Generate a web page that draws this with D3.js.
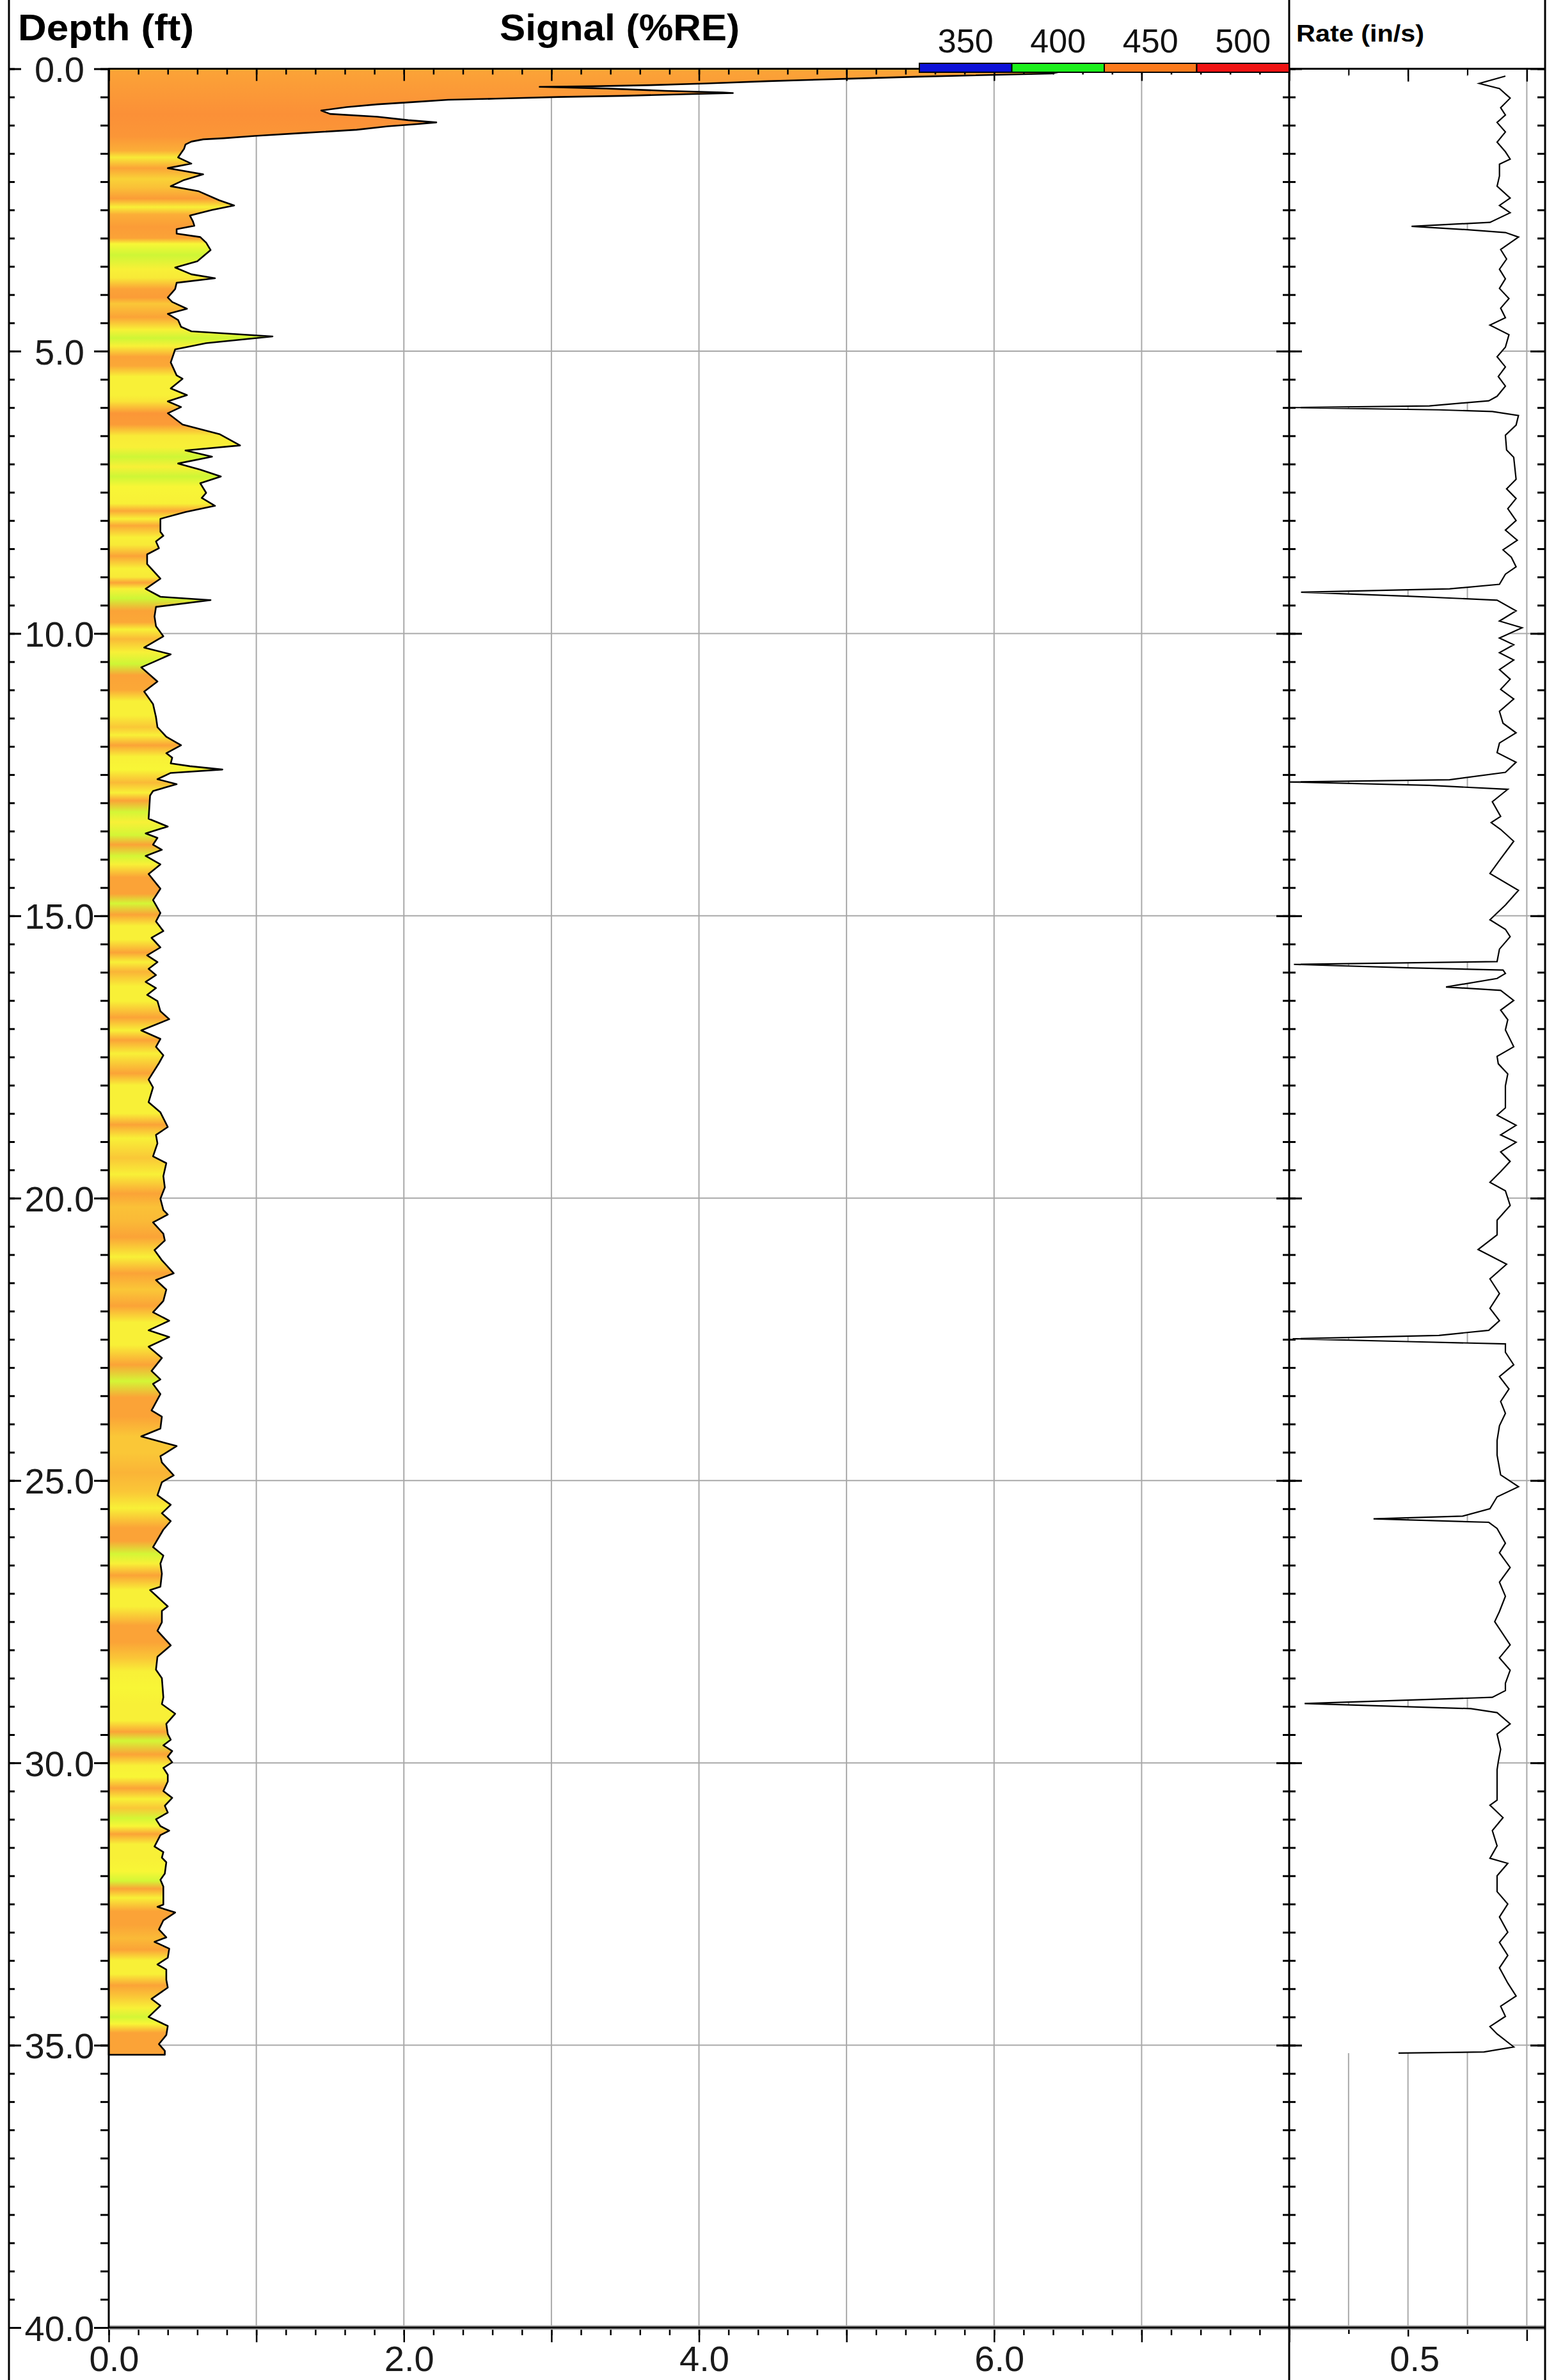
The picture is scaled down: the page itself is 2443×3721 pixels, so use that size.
<!DOCTYPE html>
<html>
<head>
<meta charset="utf-8">
<script src="https://cdn.jsdelivr.net/npm/d3@7"></script>
<style>
  body { margin: 0; background: #fff; }
  svg { display: block; font-family: "Liberation Sans", Arial, sans-serif; }
</style>
</head>
<body>
<div id="chart"></div>
<script>
// signal profile: [depth (ft), signal (%RE)]
const signalPoints = [
  [0.00, 6.60], [0.05, 6.45], [0.085, 6.39], [0.14, 5.49], [0.18, 4.97], [0.22, 4.47], [0.26, 4.05],
  [0.29, 3.67], [0.31, 3.28], [0.32, 2.92], [0.35, 3.37], [0.39, 3.77], [0.42, 4.16], [0.43, 4.23],
  [0.45, 3.91], [0.48, 3.48], [0.50, 3.05], [0.53, 2.62], [0.55, 2.30], [0.59, 2.06], [0.63, 1.82],
  [0.68, 1.61], [0.74, 1.44], [0.80, 1.50], [0.85, 1.82], [0.91, 2.03], [0.95, 2.22], [0.98, 2.09],
  [1.02, 1.89], [1.08, 1.68], [1.14, 1.30], [1.19, 0.99], [1.23, 0.78], [1.25, 0.64], [1.29, 0.56],
  [1.34, 0.52], [1.42, 0.51], [1.57, 0.47], [1.68, 0.56], [1.76, 0.40], [1.80, 0.49], [1.87, 0.64],
  [1.97, 0.51], [2.08, 0.42], [2.17, 0.61], [2.33, 0.75], [2.42, 0.85], [2.50, 0.70], [2.60, 0.55],
  [2.70, 0.57], [2.78, 0.58], [2.84, 0.46], [2.92, 0.46], [2.98, 0.62], [3.08, 0.66], [3.21, 0.69],
  [3.41, 0.60], [3.52, 0.45], [3.64, 0.56], [3.71, 0.72], [3.79, 0.46], [3.90, 0.45], [4.05, 0.40],
  [4.13, 0.43], [4.25, 0.53], [4.34, 0.40], [4.45, 0.47], [4.57, 0.49], [4.65, 0.56], [4.74, 1.11],
  [4.86, 0.66], [4.97, 0.45], [5.20, 0.42], [5.43, 0.46], [5.49, 0.50], [5.66, 0.42], [5.78, 0.53],
  [5.89, 0.40], [5.99, 0.49], [6.10, 0.40], [6.30, 0.50], [6.47, 0.75], [6.67, 0.89], [6.76, 0.52],
  [6.87, 0.70], [6.99, 0.47], [7.10, 0.62], [7.22, 0.76], [7.34, 0.62], [7.51, 0.66], [7.60, 0.63],
  [7.74, 0.72], [7.85, 0.52], [7.97, 0.35], [8.20, 0.35], [8.27, 0.37], [8.37, 0.32], [8.49, 0.34],
  [8.60, 0.26], [8.77, 0.26], [9.03, 0.35], [9.21, 0.25], [9.35, 0.35], [9.41, 0.69], [9.53, 0.32],
  [9.70, 0.31], [9.87, 0.32], [10.05, 0.37], [10.25, 0.24], [10.37, 0.42], [10.51, 0.30], [10.60, 0.22],
  [10.85, 0.33], [11.03, 0.24], [11.25, 0.30], [11.48, 0.32], [11.66, 0.33], [11.83, 0.39], [11.98, 0.49],
  [12.12, 0.39], [12.20, 0.43], [12.30, 0.42], [12.35, 0.55], [12.41, 0.77], [12.47, 0.42], [12.58, 0.33],
  [12.67, 0.46], [12.79, 0.30], [12.87, 0.28], [13.28, 0.27], [13.42, 0.40], [13.54, 0.25], [13.62, 0.33],
  [13.74, 0.30], [13.83, 0.36], [13.94, 0.25], [14.09, 0.35], [14.26, 0.27], [14.52, 0.35], [14.72, 0.30],
  [14.95, 0.35], [15.10, 0.32], [15.27, 0.37], [15.39, 0.29], [15.56, 0.35], [15.70, 0.26], [15.82, 0.33],
  [15.94, 0.27], [16.05, 0.32], [16.17, 0.25], [16.28, 0.32], [16.40, 0.26], [16.51, 0.33], [16.69, 0.35],
  [16.83, 0.41], [17.03, 0.22], [17.18, 0.35], [17.32, 0.32], [17.47, 0.37], [17.61, 0.34], [17.90, 0.27],
  [18.04, 0.30], [18.30, 0.27], [18.48, 0.35], [18.74, 0.40], [18.88, 0.32], [19.03, 0.33], [19.26, 0.30],
  [19.38, 0.39], [19.61, 0.37], [19.81, 0.38], [20.01, 0.35], [20.21, 0.37], [20.29, 0.40], [20.43, 0.30],
  [20.63, 0.37], [20.75, 0.38], [20.92, 0.31], [21.10, 0.36], [21.33, 0.44], [21.45, 0.32], [21.62, 0.39],
  [21.82, 0.37], [22.02, 0.30], [22.17, 0.41], [22.34, 0.27], [22.46, 0.41], [22.63, 0.27], [22.83, 0.36],
  [23.06, 0.29], [23.21, 0.35], [23.29, 0.30], [23.47, 0.35], [23.76, 0.29], [23.87, 0.36], [24.08, 0.35],
  [24.22, 0.22], [24.39, 0.46], [24.57, 0.35], [24.68, 0.36], [24.91, 0.44], [25.03, 0.36], [25.26, 0.33],
  [25.43, 0.42], [25.58, 0.36], [25.72, 0.42], [25.87, 0.37], [26.18, 0.30], [26.33, 0.37], [26.47, 0.35],
  [26.65, 0.36], [26.88, 0.35], [26.94, 0.28], [27.23, 0.40], [27.31, 0.36], [27.51, 0.36], [27.66, 0.33],
  [27.92, 0.42], [28.12, 0.33], [28.35, 0.32], [28.50, 0.36], [28.84, 0.37], [28.96, 0.36], [29.13, 0.45],
  [29.31, 0.39], [29.49, 0.40], [29.59, 0.42], [29.69, 0.37], [29.79, 0.43], [29.89, 0.40], [29.99, 0.43],
  [30.09, 0.37], [30.21, 0.40], [30.33, 0.40], [30.50, 0.37], [30.62, 0.43], [30.76, 0.38], [30.88, 0.40],
  [31.00, 0.32], [31.12, 0.35], [31.20, 0.41], [31.28, 0.35], [31.48, 0.31], [31.58, 0.37], [31.68, 0.36],
  [31.76, 0.39], [31.96, 0.38], [32.07, 0.35], [32.19, 0.37], [32.51, 0.37], [32.55, 0.33], [32.65, 0.45],
  [32.79, 0.37], [32.95, 0.34], [33.09, 0.39], [33.17, 0.31], [33.29, 0.41], [33.45, 0.40], [33.57, 0.33],
  [33.66, 0.39], [33.84, 0.39], [33.98, 0.40], [34.18, 0.29], [34.30, 0.35], [34.50, 0.27], [34.56, 0.32],
  [34.66, 0.40], [34.82, 0.39], [34.98, 0.34], [35.10, 0.38], [35.17, 0.38]
];

// rate profile: [depth (ft), rate (in/s)]
const ratePoints = [
  [0.13, 0.582], [0.26, 0.560], [0.35, 0.577], [0.52, 0.586], [0.69, 0.578], [0.82, 0.582], [0.95, 0.575],
  [1.12, 0.582], [1.30, 0.575], [1.47, 0.582], [1.60, 0.586], [1.69, 0.577], [1.90, 0.577], [2.08, 0.575],
  [2.29, 0.586], [2.42, 0.577], [2.55, 0.586], [2.72, 0.569], [2.79, 0.503], [2.85, 0.550], [2.90, 0.582],
  [2.98, 0.593], [3.20, 0.578], [3.37, 0.583], [3.55, 0.577], [3.72, 0.582], [3.89, 0.577], [4.07, 0.585],
  [4.24, 0.578], [4.41, 0.582], [4.54, 0.569], [4.71, 0.585], [4.93, 0.582], [5.10, 0.575], [5.28, 0.582],
  [5.45, 0.576], [5.62, 0.582], [5.80, 0.575], [5.88, 0.568], [5.97, 0.518], [6.00, 0.400], [6.04, 0.526],
  [6.07, 0.571], [6.14, 0.593], [6.31, 0.591], [6.49, 0.582], [6.75, 0.583], [6.88, 0.589], [7.27, 0.591],
  [7.44, 0.583], [7.61, 0.591], [7.79, 0.584], [8.00, 0.591], [8.17, 0.582], [8.35, 0.592], [8.52, 0.580],
  [8.65, 0.587], [8.82, 0.591], [8.95, 0.582], [9.13, 0.577], [9.21, 0.535], [9.27, 0.410], [9.34, 0.500],
  [9.41, 0.575], [9.60, 0.591], [9.78, 0.577], [9.90, 0.596], [10.08, 0.577], [10.20, 0.589], [10.34, 0.577],
  [10.47, 0.589], [10.64, 0.577], [10.81, 0.586], [10.99, 0.578], [11.16, 0.589], [11.38, 0.577], [11.59, 0.580],
  [11.76, 0.591], [11.94, 0.577], [12.11, 0.575], [12.28, 0.591], [12.46, 0.582], [12.59, 0.535], [12.63, 0.400],
  [12.69, 0.518], [12.76, 0.584], [12.98, 0.571], [13.24, 0.578], [13.35, 0.570], [13.47, 0.578], [13.68, 0.589],
  [13.99, 0.578], [14.25, 0.569], [14.55, 0.593], [14.81, 0.582], [15.07, 0.569], [15.24, 0.582], [15.37, 0.586],
  [15.59, 0.577], [15.81, 0.575], [15.86, 0.404], [15.92, 0.500], [15.96, 0.580], [16.02, 0.582], [16.11, 0.575],
  [16.26, 0.532], [16.32, 0.578], [16.50, 0.589], [16.67, 0.578], [16.84, 0.584], [17.02, 0.582], [17.32, 0.589],
  [17.49, 0.575], [17.62, 0.576], [17.80, 0.584], [18.01, 0.582], [18.23, 0.582], [18.40, 0.582], [18.53, 0.575],
  [18.71, 0.591], [18.88, 0.578], [19.01, 0.591], [19.18, 0.578], [19.35, 0.586], [19.53, 0.578], [19.72, 0.569],
  [19.87, 0.582], [20.13, 0.586], [20.39, 0.575], [20.65, 0.575], [20.91, 0.559], [21.17, 0.583], [21.43, 0.569],
  [21.69, 0.577], [21.95, 0.569], [22.17, 0.577], [22.34, 0.568], [22.43, 0.526], [22.49, 0.403], [22.54, 0.500],
  [22.58, 0.582], [22.73, 0.582], [22.95, 0.589], [23.16, 0.577], [23.38, 0.585], [23.60, 0.578], [23.81, 0.582],
  [24.03, 0.577], [24.29, 0.575], [24.55, 0.575], [24.90, 0.578], [25.11, 0.593], [25.29, 0.575], [25.50, 0.569],
  [25.63, 0.546], [25.68, 0.471], [25.74, 0.568], [25.85, 0.575], [26.11, 0.582], [26.28, 0.577], [26.54, 0.586],
  [26.80, 0.577], [27.05, 0.582], [27.32, 0.577], [27.50, 0.573], [27.91, 0.586], [28.14, 0.577], [28.36, 0.586],
  [28.59, 0.582], [28.72, 0.582], [28.84, 0.571], [28.95, 0.413], [29.04, 0.553], [29.11, 0.575], [29.31, 0.586],
  [29.49, 0.575], [29.76, 0.578], [29.98, 0.576], [30.12, 0.575], [30.66, 0.575], [30.75, 0.569], [30.97, 0.580],
  [31.20, 0.571], [31.47, 0.575], [31.69, 0.569], [31.78, 0.584], [32.00, 0.575], [32.28, 0.575], [32.50, 0.584],
  [32.73, 0.577], [33.00, 0.584], [33.18, 0.577], [33.41, 0.584], [33.63, 0.577], [33.90, 0.584], [34.13, 0.591],
  [34.31, 0.578], [34.49, 0.582], [34.67, 0.569], [34.80, 0.575], [35.03, 0.589], [35.12, 0.564], [35.14, 0.492]
];

// colour band value down the hole: [depth (ft), value on the 350-500 legend]
const bandPoints = [
  [0.00, 443], [0.05, 446], [0.30, 447], [0.80, 449], [1.20, 448], [1.45, 444], [1.57, 434], [1.76, 446],
  [1.95, 438], [2.10, 441], [2.30, 447], [2.45, 433], [2.58, 444], [2.80, 447], [3.00, 446], [3.10, 432],
  [3.30, 425], [3.55, 433], [3.70, 434], [3.90, 446], [4.05, 447], [4.16, 440], [4.40, 446], [4.62, 433],
  [4.77, 425], [4.91, 433], [5.10, 446], [5.26, 445], [5.45, 433], [5.78, 433], [5.89, 435], [6.10, 448],
  [6.30, 447], [6.50, 434], [6.70, 433], [6.87, 425], [7.05, 433], [7.22, 425], [7.40, 432], [7.70, 433],
  [7.83, 445], [7.97, 433], [8.09, 445], [8.30, 433], [8.43, 434], [8.63, 446], [8.85, 433], [9.00, 434],
  [9.10, 446], [9.21, 433], [9.38, 425], [9.60, 446], [9.80, 445], [9.93, 433], [10.10, 442], [10.33, 433],
  [10.54, 425], [10.74, 446], [11.00, 445], [11.20, 433], [11.45, 433], [11.66, 440], [11.80, 433], [11.98, 446],
  [12.18, 433], [12.41, 432], [12.64, 442], [12.82, 433], [12.96, 446], [13.16, 426], [13.34, 433], [13.57, 426],
  [13.74, 446], [13.94, 426], [14.09, 433], [14.32, 446], [14.61, 446], [14.78, 426], [14.98, 446], [15.18, 433],
  [15.42, 433], [15.65, 446], [15.82, 433], [15.99, 443], [16.25, 433], [16.51, 433], [16.80, 446], [17.03, 433],
  [17.20, 446], [17.44, 433], [17.79, 446], [18.00, 433], [18.50, 433], [18.70, 446], [18.94, 433], [19.29, 440],
  [19.58, 433], [19.92, 446], [20.16, 441], [20.40, 442], [20.69, 446], [21.04, 433], [21.33, 446], [21.62, 440],
  [21.91, 446], [22.20, 433], [22.60, 433], [22.95, 446], [23.24, 426], [23.53, 446], [23.87, 446], [24.22, 440],
  [24.51, 440], [24.86, 443], [25.20, 440], [25.49, 433], [25.84, 446], [26.07, 446], [26.30, 426], [26.47, 433],
  [26.68, 446], [26.94, 433], [27.23, 433], [27.57, 446], [27.86, 446], [28.15, 440], [28.38, 433], [28.67, 432],
  [28.96, 433], [29.25, 433], [29.45, 446], [29.61, 426], [29.85, 446], [30.05, 433], [30.25, 432], [30.45, 446],
  [30.64, 433], [30.80, 440], [30.98, 426], [31.12, 432], [31.26, 446], [31.44, 433], [31.68, 433], [31.92, 432],
  [32.09, 426], [32.23, 446], [32.39, 433], [32.63, 446], [32.87, 446], [33.11, 442], [33.31, 446], [33.50, 433],
  [33.74, 433], [33.94, 446], [34.14, 440], [34.34, 433], [34.50, 426], [34.62, 432], [34.78, 446], [35.02, 446],
  [35.17, 446]
];

const legendValues = [350, 400, 450, 500];
const legendColors = ['#0b10d8', '#1bef1b', '#fb7a1c', '#ee1212'];

const signalGrid = [1, 2, 3, 4, 5, 6, 7];
const signalLabels = [0, 2, 4, 6];
const depthGrid = [5, 10, 15, 20, 25, 30, 35];
const depthLabels = [0, 5, 10, 15, 20, 25, 30, 35, 40];
const rateGrid = [0.45, 0.5, 0.55, 0.6];
const rateLabels = [0.5];

const W = 2443, H = 3721;
const plotTop = 107.5, plotBottom = 3639;
const sigLeft = 170, sigRight = 2015, rateRight = 2415, outerLeft = 14;
const gridColor = '#a9a9a9';
const labelFont = '56px';

const y = d3.scaleLinear().domain([0, 40]).range([plotTop, plotBottom]);
const xSig = d3.scaleLinear().domain([0, 8]).range([sigLeft, sigRight]);
const xRate = d3.scaleLinear().domain([0.4, 0.6154]).range([sigRight, rateRight]);
const bandColor = d3.scaleLinear().domain(legendValues).range(legendColors).interpolate(d3.interpolateHsl);

const svg = d3.select('#chart').append('svg')
  .attr('width', W)
  .attr('height', H);

svg.append('rect').attr('width', W).attr('height', H).attr('fill', '#fff');

// vertical gradient for the banded fill
const lastBand = bandPoints[bandPoints.length - 1][0];
const grad = svg.append('defs').append('linearGradient')
  .attr('id', 'bands')
  .attr('gradientUnits', 'userSpaceOnUse')
  .attr('x1', 0).attr('x2', 0)
  .attr('y1', y(0)).attr('y2', y(lastBand));
grad.selectAll('stop')
  .data(bandPoints)
  .join('stop')
  .attr('offset', d => d[0] / lastBand)
  .attr('stop-color', d => d3.interpolateRgb(bandColor(d[1]), '#fff')(0.12));

// grid
const grid = svg.append('g').attr('stroke', gridColor).attr('stroke-width', 2);
grid.selectAll('line.vs')
  .data(signalGrid)
  .join('line').attr('class', 'vs')
  .attr('x1', d => xSig(d)).attr('x2', d => xSig(d))
  .attr('y1', y(0)).attr('y2', y(40));
grid.selectAll('line.vr')
  .data(rateGrid)
  .join('line').attr('class', 'vr')
  .attr('x1', d => xRate(d)).attr('x2', d => xRate(d))
  .attr('y1', y(0)).attr('y2', y(40));
grid.selectAll('line.h')
  .data(depthGrid)
  .join('line').attr('class', 'h')
  .attr('x1', sigLeft).attr('x2', rateRight)
  .attr('y1', d => y(d)).attr('y2', d => y(d));

// signal area
const sigArea = d3.area()
  .y(d => y(d[0]))
  .x0(xSig(0))
  .x1(d => xSig(d[1]));

svg.append('path')
  .datum(signalPoints)
  .attr('d', sigArea)
  .attr('fill', 'url(#bands)')
  .attr('stroke', '#000')
  .attr('stroke-width', 2.6)
  .attr('stroke-linejoin', 'round');

// rate: white fill to the left of the curve hides the grid
const rateArea = d3.area()
  .y(d => y(d[0]))
  .x0(xRate(0.4))
  .x1(d => xRate(d[1]));

svg.append('path')
  .datum(ratePoints)
  .attr('d', rateArea)
  .attr('fill', '#fff');

svg.append('path')
  .datum(ratePoints)
  .attr('d', d3.line().y(d => y(d[0])).x(d => xRate(d[1])))
  .attr('fill', 'none')
  .attr('stroke', '#000')
  .attr('stroke-width', 2.2);

// axes
function tidy(g, width) {
  g.select('.domain').remove();
  g.selectAll('.tick line').attr('stroke', '#000').attr('stroke-width', width || 3);
  g.selectAll('.tick text')
    .attr('fill', '#1a1a1a')
    .style('font-size', labelFont)
    .style('font-family', '"Liberation Sans", Arial, sans-serif');
}

const halfFeet = d3.range(0, 40.001, 0.5);
const fifthUnits = d3.range(0, 8.001, 0.2);
const wholeUnits = d3.range(0, 8.001, 1);

function depthTicks(x, make, minor, major) {
  svg.append('g').attr('transform', `translate(${x},0)`)
    .call(make(y).tickValues(halfFeet).tickSize(minor).tickFormat(''))
    .call(g => tidy(g));
  svg.append('g').attr('transform', `translate(${x},0)`)
    .call(make(y).tickValues(depthLabels).tickSize(major).tickFormat(''))
    .call(g => tidy(g));
}

depthTicks(outerLeft, d3.axisRight, 9, 19);
depthTicks(sigRight, d3.axisLeft, 10, 20);
depthTicks(sigRight, d3.axisRight, 10, 20);
depthTicks(rateRight, d3.axisLeft, 12, 23);

// depth axis with labels
svg.append('g').attr('transform', `translate(${sigLeft},0)`)
  .call(d3.axisLeft(y).tickValues(halfFeet).tickSize(13).tickFormat(''))
  .call(g => tidy(g));
svg.append('g').attr('transform', `translate(${sigLeft},0)`)
  .call(d3.axisLeft(y).tickValues(depthLabels).tickSize(23).tickFormat(d3.format('.1f')))
  .call(g => tidy(g))
  .call(g => g.selectAll('.tick text')
    .attr('x', 93 - sigLeft)
    .attr('dy', '0.36em')
    .attr('text-anchor', 'middle'));

// top axes
svg.append('g').attr('transform', `translate(0,${plotTop})`)
  .call(d3.axisBottom(xSig).tickValues(fifthUnits).tickSize(9).tickFormat(''))
  .call(g => tidy(g, 2.5));
svg.append('g').attr('transform', `translate(0,${plotTop})`)
  .call(d3.axisBottom(xSig).tickValues(wholeUnits).tickSize(19).tickFormat(''))
  .call(g => tidy(g, 2.5));
svg.append('g').attr('transform', `translate(0,${plotTop})`)
  .call(d3.axisBottom(xRate).tickValues([0.45, 0.55]).tickSize(10).tickFormat(''))
  .call(g => tidy(g, 2));
svg.append('g').attr('transform', `translate(0,${plotTop})`)
  .call(d3.axisBottom(xRate).tickValues([0.5, 0.6]).tickSize(20).tickFormat(''))
  .call(g => tidy(g, 2.5));

// bottom axes
svg.append('g').attr('transform', `translate(0,${plotBottom})`)
  .call(d3.axisBottom(xSig).tickValues(fifthUnits).tickSize(12).tickFormat(''))
  .call(g => tidy(g, 2.5));
svg.append('g').attr('transform', `translate(0,${plotBottom})`)
  .call(d3.axisBottom(xSig).tickValues(wholeUnits).tickSize(23).tickFormat(''))
  .call(g => tidy(g, 2.5));
svg.append('g').attr('transform', `translate(0,${plotBottom})`)
  .call(d3.axisBottom(xSig).tickValues(signalLabels).tickSize(0).tickFormat(d3.format('.1f')))
  .call(g => tidy(g))
  .call(g => g.selectAll('.tick text').attr('y', 68).attr('dy', 0).attr('dx', 8));
svg.append('g').attr('transform', `translate(0,${plotBottom})`)
  .call(d3.axisBottom(xRate).tickValues([0.45, 0.55]).tickSize(10).tickFormat(''))
  .call(g => tidy(g, 2.5));
svg.append('g').attr('transform', `translate(0,${plotBottom})`)
  .call(d3.axisBottom(xRate).tickValues(rateLabels).tickSize(14).tickFormat(d3.format('.1f')))
  .call(g => tidy(g, 2.5))
  .call(g => g.selectAll('.tick text').attr('y', 68).attr('dy', 0).attr('dx', 10));
svg.append('g').attr('transform', `translate(0,${plotBottom})`)
  .call(d3.axisBottom(xRate).tickValues([0.6]).tickSize(21).tickFormat(''))
  .call(g => tidy(g, 2.5));

// frame lines
const frame = svg.append('g').attr('stroke', '#000').attr('stroke-width', 3);
frame.append('line').attr('x1', sigLeft).attr('x2', rateRight).attr('y1', plotTop).attr('y2', plotTop);
frame.append('line').attr('x1', sigLeft).attr('x2', rateRight).attr('y1', plotBottom).attr('y2', plotBottom)
  .attr('stroke', gridColor).attr('stroke-width', 7);
frame.append('line').attr('x1', sigLeft).attr('x2', rateRight).attr('y1', plotBottom).attr('y2', plotBottom);
frame.append('line').attr('x1', sigLeft).attr('x2', sigLeft).attr('y1', plotTop).attr('y2', plotBottom);
frame.append('line').attr('x1', outerLeft).attr('x2', outerLeft).attr('y1', 0).attr('y2', H);
frame.append('line').attr('x1', sigRight).attr('x2', sigRight).attr('y1', 0).attr('y2', H);
frame.append('line').attr('x1', rateRight).attr('x2', rateRight).attr('y1', 0).attr('y2', H);

// legend bar on the top axis
const legendX = d3.scaleBand().domain(legendValues).range([1437, sigRight]);
const legend = svg.append('g');
legend.selectAll('rect')
  .data(legendValues)
  .join('rect')
  .attr('x', d => legendX(d))
  .attr('y', 99)
  .attr('width', legendX.bandwidth())
  .attr('height', 14)
  .attr('fill', (d, i) => legendColors[i])
  .attr('stroke', '#000')
  .attr('stroke-width', 2);
legend.selectAll('text')
  .data(legendValues)
  .join('text')
  .attr('x', d => legendX(d) + legendX.bandwidth() / 2)
  .attr('y', 82)
  .attr('text-anchor', 'middle')
  .style('font-size', '52px')
  .attr('fill', '#111')
  .text(d => d);

// titles
svg.append('text')
  .attr('x', 28).attr('y', 63)
  .attr('textLength', 275).attr('lengthAdjust', 'spacingAndGlyphs')
  .style('font-size', '58px').style('font-weight', 'bold')
  .text('Depth (ft)');
svg.append('text')
  .attr('x', 781).attr('y', 63)
  .attr('textLength', 375).attr('lengthAdjust', 'spacingAndGlyphs')
  .style('font-size', '58px').style('font-weight', 'bold')
  .text('Signal (%RE)');
svg.append('text')
  .attr('x', 2026).attr('y', 65)
  .attr('textLength', 200).attr('lengthAdjust', 'spacingAndGlyphs')
  .style('font-size', '36px').style('font-weight', 'bold')
  .text('Rate (in/s)');
</script>
</body>
</html>
